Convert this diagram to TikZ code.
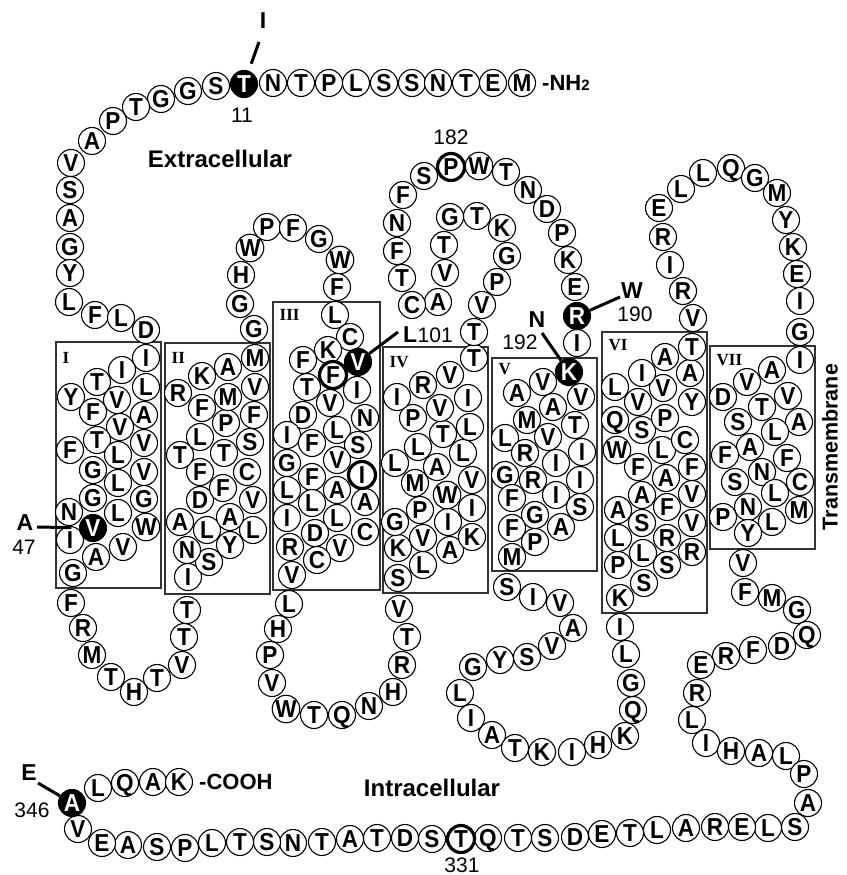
\documentclass[tikz,border=0pt]{standalone}
\usepackage{fontspec}
\setmainfont{Liberation Sans}
\newfontfamily\romfont{Liberation Serif}
\newfontfamily\resfam[FakeStretch=0.92]{Liberation Sans}
\newcommand\resfont{\resfam\fontsize{24.5}{24.5}\selectfont\bfseries}
\newcommand\labfont{\fontsize{24}{24}\selectfont\bfseries}
\newcommand\numfont{\fontsize{21}{21}\selectfont}
\newcommand\mutfont{\fontsize{23}{23}\selectfont\bfseries}
\newcommand\romnum{\fontsize{17}{17}\selectfont\romfont\bfseries}
\tikzset{
  res/.style={circle,draw=black,line width=1.1pt,fill=white,minimum size=27pt,inner sep=0pt,
    font=\resfont,text height=17.4pt,text depth=0pt},
  blk/.style={res,fill=black,text=white},
  bld/.style={res,line width=3.2pt},
  tmbox/.style={draw=black!80,line width=1.4pt},
  roman/.style={font=\romnum,anchor=west,inner sep=0pt},
  lab/.style={font=\labfont,inner sep=0pt},
  num/.style={font=\numfont,inner sep=0pt},
  mut/.style={font=\mutfont,inner sep=0pt},
  mutline/.style={line width=3pt}
}
\begin{document}
\begin{tikzpicture}[x=1pt,y=-1pt]
\useasboundingbox (0,0) rectangle (846,875);
% transmembrane boxes
\draw[tmbox] (56,342) rectangle (161,588) node[pos=0,roman,xshift=6pt,yshift=-16pt] (b1) {I};
\draw[tmbox] (165,343) rectangle (270,594) node[pos=0,roman,xshift=6pt,yshift=-15pt] (b2) {II};
\draw[tmbox] (273,302) rectangle (380,590) node[pos=0,roman,xshift=6pt,yshift=-13pt] (b3) {III};
\draw[tmbox] (383,347) rectangle (488,593) node[pos=0,roman,xshift=6pt,yshift=-15pt] (b4) {IV};
\draw[tmbox] (492,358) rectangle (597,571) node[pos=0,roman,xshift=6pt,yshift=-11pt] (b5) {V};
\draw[tmbox] (602,332) rectangle (707,613) node[pos=0,roman,xshift=6pt,yshift=-13pt] (b6) {VI};
\draw[tmbox] (710,346) rectangle (815,549) node[pos=0,roman,xshift=6pt,yshift=-14pt] (b7) {VII};
% N-terminus
\foreach \x/\y/\l [count=\i] in {273/83/N,301/83/T,329/83/P,356/83/L,384/83/S,412/83/S,438/83/N,466/83/T,493/83/E,522/83/M,
 216/86/S,188/91/G,161/99/G,136/107/T,113/121/P,92/141/A,71/163/V,70/190/S,70/218/A,70/247/G,70/273/Y,69/302/L,95/315/F,121/318/L,146/330/D}
 {\node[res] (nt\i) at (\x,\y) {\l};}
% TM I
\foreach \x/\y/\l [count=\i] in {146/358/I,122/370/I,97/382/T,146/387/L,71/397/Y,117/400/V,93/412/F,144/415/A,120/427/V,97/440/T,144/443/V,70/450/F,118/455/L,93/470/G,144/472/V,118/483/L,93/498/G,144/499/G,69/512/N,118/513/L,146/527/W,70/540/I,123/547/V,96/557/A,73/573/G}
 {\node[res] (ta\i) at (\x,\y) {\l};}
% ICL1
\foreach \x/\y/\l [count=\i] in {71/603/F,83/628/R,92/655/M,111/677/T,134/692/H,157/678/T,182/665/V,184/637/T,187/610/T}
 {\node[res] (ia\i) at (\x,\y) {\l};}
% TM II
\foreach \x/\y/\l [count=\i] in {188/577/I,209/562/S,230/545/Y,187/550/N,207/530/L,253/530/L,180/522/A,230/517/A,200/500/D,253/500/V,223/488/F,200/472/F,247/472/C,180/455/T,224/453/T,200/437/L,250/442/S,226/423/P,254/415/F,202/408/F,228/397/M,255/387/V,178/393/R,202/376/K,228/367/A,255/358/M}
 {\node[res] (tb\i) at (\x,\y) {\l};}
% ECL1
\foreach \x/\y/\l [count=\i] in {254/329/G,240/304/G,241/275/H,250/248/W,267/227/P,293/228/F,319/239/G,340/260/W,337/287/F}
 {\node[res] (ea\i) at (\x,\y) {\l};}
% TM III
\foreach \x/\y/\l [count=\i] in {335/315/L,350/337/C,328/350/K,303/360/F,307/387/T,357/390/I,330/403/V,303/415/D,365/418/N,337/430/L,287/435/I,312/443/F,358/445/S,337/460/V,287/463/G,312/477/F,337/490/A,287/490/L,312/503/L,365/502/A,287/518/I,337/518/L,315/533/D,365/532/C,290/547/R,340/548/V,317/560/C,292/575/V}
 {\node[res] (tc\i) at (\x,\y) {\l};}
% ICL2
\foreach \x/\y/\l [count=\i] in {289/604/L,278/629/H,270/655/P,272/683/V,286/709/W,314/715/T,342/715/Q,369/706/N,393/692/H,402/665/R,407/637/T,399/609/V}
 {\node[res] (ib\i) at (\x,\y) {\l};}
% TM IV
\foreach \x/\y/\l [count=\i] in {398/578/S,423/565/L,450/550/A,398/548/K,472/537/K,423/538/V,448/522/I,395/522/G,420/510/P,472/508/I,447/495/W,415/483/M,472/480/V,437/467/A,395/463/L,463/453/L,418/447/L,443/434/T,470/427/L,413/418/P,440/408/V,468/398/I,397/397/I,423/385/R,450/375/V,474/358/T}
 {\node[res] (td\i) at (\x,\y) {\l};}
% ECL2
\foreach \x/\y/\l [count=\i] in {474/332/T,482/305/V,497/282/P,507/256/G,502/228/K,477/216/T,450/217/G,444/245/T,445/273/V,438/302/A,412/305/C,402/278/T,397/251/F,397/223/N,403/195/F,424/176/S,479/166/W,506/172/T,528/190/N,547/209/D,562/233/P,568/260/K,575/287/E,577/343/I}
 {\node[res] (eb\i) at (\x,\y) {\l};}
% TM V
\foreach \x/\y/\l [count=\i] in {543/382/V,517/393/A,581/397/V,553/407/A,527/420/M,575/425/T,505/438/L,548/437/V,582/452/I,525/453/R,556/463/I,505/475/G,533/480/R,580/480/I,512/498/F,556/495/I,580/507/S,535/515/G,512/528/F,561/527/A,535/542/P,512/557/M}
 {\node[res] (te\i) at (\x,\y) {\l};}
% ICL3
\foreach \x/\y/\l [count=\i] in {507/587/S,533/597/I,560/603/V,573/628/A,552/646/V,527/657/S,500/660/Y,473/667/G,460/693/L,471/718/I,492/735/A,515/748/T,542/752/K,572/752/I,598/745/H,625/736/K,633/710/Q,631/683/G,626/654/L,620/627/I}
 {\node[res] (ic\i) at (\x,\y) {\l};}
% TM VI
\foreach \x/\y/\l [count=\i] in {620/598/K,644/583/S,618/565/P,667/565/S,643/553/L,618/538/L,667/538/R,692/552/R,642/523/S,692/523/V,618/510/A,667/507/F,642/495/A,692/494/V,666/478/A,638/467/F,692/467/F,617/450/W,662/450/L,685/440/C,642/430/S,615/420/Q,665/418/P,692/402/Y,638/402/V,663/388/V,615/387/L,642/373/I,690/373/A,665/357/A,692/347/T}
 {\node[res] (tf\i) at (\x,\y) {\l};}
% ECL3
\foreach \x/\y/\l [count=\i] in {693/318/V,683/291/R,670/265/I,663/237/R,659/208/E,681/189/L,703/173/L,731/168/Q,755/178/G,777/193/M,786/220/Y,793/247/K,797/274/E,800/301/I,800/332/G}
 {\node[res] (ec\i) at (\x,\y) {\l};}
% TM VII
\foreach \x/\y/\l [count=\i] in {800/360/I,772/370/A,747/382/V,788/396/V,723/397/D,762/407/T,799/422/A,738/422/S,775/432/L,750/447/A,725/455/F,787/458/F,762/472/N,800/482/C,735/482/S,775/493/L,748/507/N,799/510/M,723/517/P,772/522/L,748/533/Y}
 {\node[res] (tg\i) at (\x,\y) {\l};}
% C-terminus
\foreach \x/\y/\l [count=\i] in {743/563/V,745/592/F,772/598/M,797/610/G,807/635/Q,782/646/D,753/650/F,726/656/R,701/665/E,697/693/R,692/720/L,706/743/I,731/751/H,759/753/A,786/756/L,804/774/P,808/803/A,795/827/S,768/828/L,742/827/E,715/827/R,686/828/A,657/830/L,630/833/T,602/834/E,575/837/D,545/838/S,518/838/T,488/838/Q,432/839/S,405/838/D,377/838/T,350/839/A,322/842/T,293/843/N,267/842/S,240/842/T,212/843/L,185/848/P,157/847/S,128/845/A,102/843/E,78/829/V,98/788/L,125/783/Q,153/782/A,179/782/K}
 {\node[res] (ct\i) at (\x,\y) {\l};}
% highlighted residues
\node[blk] (t11) at (244,84) {T};
\node[blk] (v47) at (93,528) {V};
\node[blk] (v101) at (358,362) {V};
\node[bld] (f3) at (333,375) {F};
\node[bld] (i3) at (362,475) {I};
\node[bld] (p182) at (451,167) {P};
\node[blk] (r190) at (577,316) {R};
\node[blk] (k192) at (569,372) {K};
\node[bld] (t331) at (461,839) {T};
\node[blk] (a346) at (72,803) {A};
% mutation labels and lines
\node[mut] (mI) at (263,21) {I};
\coordinate (eI) at (259,42);
\draw[mutline,shorten >=7.5pt] (eI) -- (t11);
\node[mut] (mA) at (25,523) {A};
\coordinate (eA) at (37,527);
\draw[mutline,shorten >=7.5pt] (eA) -- (v47);
\node[mut,anchor=west] (mL) at (403,335) {L};
\coordinate (eL) at (398,332);
\draw[mutline] (v101) -- (eL);
\node[mut] (mW) at (632,291) {W};
\coordinate (eW) at (620,297);
\draw[mutline] (r190) -- (eW);
\node[mut] (mN) at (537,320) {N};
\coordinate (eN) at (542,333);
\draw[mutline] (eN) -- (k192);
\node[mut] (mE) at (29,773) {E};
\coordinate (eE) at (38,783);
\draw[mutline] (eE) -- (a346);
% numbers
\node[num] (n11) at (242,115) {11};
\node[num] (n182) at (451,137) {182};
\node[num] (n47) at (24,547) {47};
\node[num,anchor=west] (n101) at (mL.east) {101};
\node[num] (n190) at (635,314) {190};
\node[num] (n192) at (520,342) {192};
\node[num] (n346) at (32,810) {346};
\node[num] (n331) at (462,865) {331};
% region labels
\node[lab] (extra) at (220,159) {Extracellular};
\node[lab] (intra) at (432,788) {Intracellular};
\node[lab,rotate=90,font=\fontsize{21.5}{21.5}\selectfont\bfseries] (tmlab) at (830,447) {Transmembrane};
\node[inner sep=0pt,anchor=west,font=\fontsize{22}{22}\selectfont\bfseries] (nh2) at (542,83) {-NH{\fontsize{15}{15}\selectfont 2}};
\node[inner sep=0pt,anchor=west,font=\fontsize{22}{22}\selectfont\bfseries] (cooh) at (199,782) {-COOH};
\end{tikzpicture}
\end{document}
